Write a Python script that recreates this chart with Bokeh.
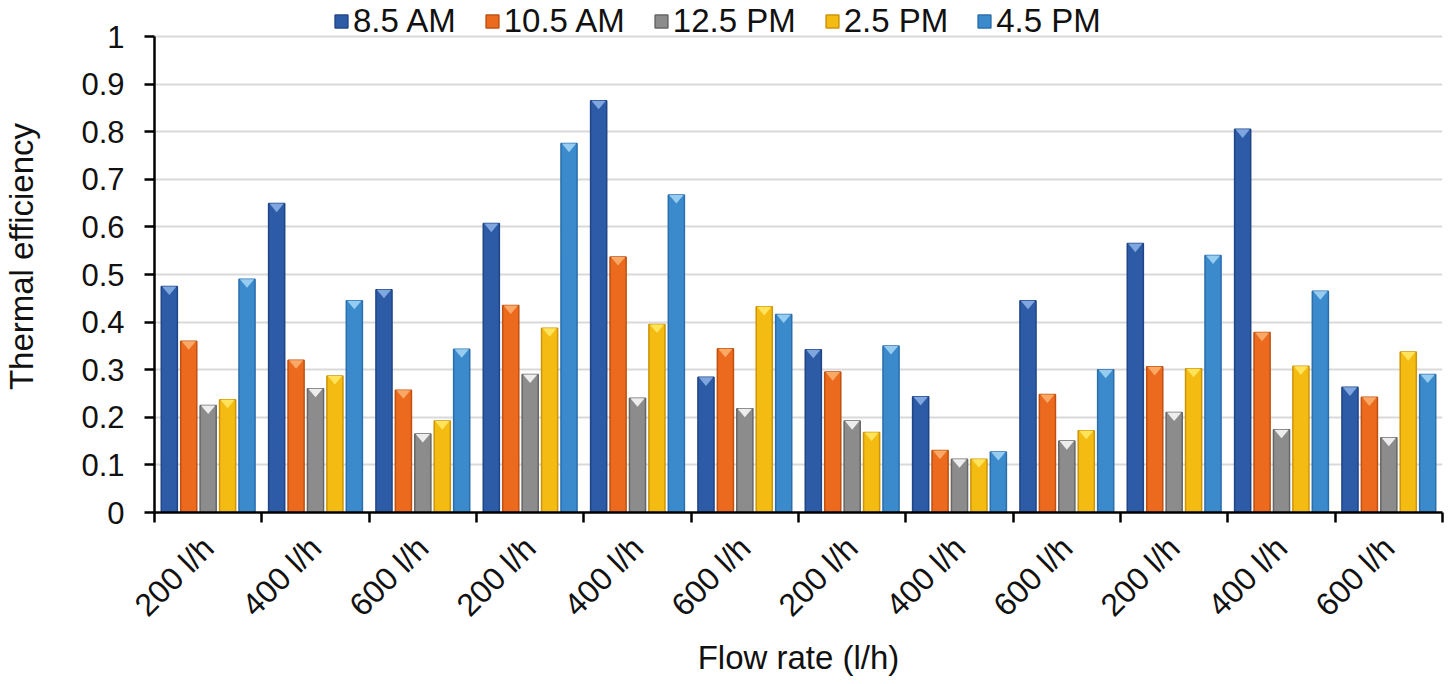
import math
from bokeh.plotting import figure
from bokeh.models import ColumnDataSource, FixedTicker, Legend, LegendItem
from bokeh.embed import file_html
from bokeh.resources import INLINE

groups = ["200 l/h", "400 l/h", "600 l/h", "200 l/h", "400 l/h", "600 l/h",
          "200 l/h", "400 l/h", "600 l/h", "200 l/h", "400 l/h", "600 l/h"]
series = ["8.5 AM", "10.5 AM", "12.5 PM", "2.5 PM", "4.5 PM"]
am85 = [0.475, 0.649, 0.468, 0.607, 0.865, 0.284, 0.342, 0.243, 0.445, 0.565, 0.805, 0.263]
am105 = [0.360, 0.320, 0.257, 0.435, 0.537, 0.344, 0.295, 0.130, 0.248, 0.306, 0.378, 0.242]
pm125 = [0.225, 0.260, 0.165, 0.290, 0.240, 0.218, 0.192, 0.112, 0.150, 0.210, 0.174, 0.157]
pm25 = [0.237, 0.287, 0.192, 0.387, 0.395, 0.432, 0.168, 0.112, 0.172, 0.302, 0.307, 0.337]
pm45 = [0.490, 0.445, 0.343, 0.775, 0.667, 0.416, 0.350, 0.127, 0.300, 0.540, 0.465, 0.290]
values = [am85, am105, pm125, pm25, pm45]
y_ticks = [0, 0.1, 0.2, 0.3, 0.4, 0.5, 0.6, 0.7, 0.8, 0.9, 1]
y_labels = ["0", "0.1", "0.2", "0.3", "0.4", "0.5", "0.6", "0.7", "0.8", "0.9", "1"]

main_c = ["#2D5BA6", "#EC6A1E", "#8C8C8C", "#F4BB12", "#3B8ACB"]
edge_c = ["#1F4587", "#BF5012", "#666666", "#CC9508", "#2A6EAC"]
hi_c = ["#7FA6DE", "#FAA866", "#EDEDED", "#FFE35A", "#96CCF0"]

FONT = "Liberation Sans"
offsets = [-0.362, -0.181, 0.0, 0.181, 0.362]
bw = 0.15

FH = 512
p = figure(frame_width=1288, frame_height=FH, output_backend="svg", toolbar_location=None,
           x_range=(0, 12), y_range=(0, 512 / 476),
           min_border_left=153, min_border_right=2, min_border_top=0,
           min_border_bottom=0)
p.outline_line_color = None
p.background_fill_color = "white"

items = []
for k, name in enumerate(series):
    xs = [i + 0.5 + offsets[k] for i in range(len(groups))]
    src = ColumnDataSource(dict(x=xs, top=values[k]))
    r = p.vbar(x="x", top="top", width=bw, source=src, fill_color=main_c[k],
               line_color=edge_c[k], line_width=1.5)
    p.vbar(x="x", top="top", width=bw * 0.55, source=src, fill_color=main_c[k],
           line_color=None, fill_alpha=1)
    tri_h = 0.018
    txs = [[x - bw / 2 + 0.008, x + bw / 2 - 0.008, x] for x in xs]
    tys = [[v, v, v - tri_h] for v in values[k]]
    p.patches(xs=txs, ys=tys, fill_color=hi_c[k], line_color=None)
    items.append(LegendItem(label=name, renderers=[r]))

legend = Legend(items=items, orientation="horizontal", location=(179, 472),
                label_text_font=FONT, label_text_font_size="33px",
                label_text_color="#111111", glyph_width=16, glyph_height=16,
                spacing=28, label_standoff=4, padding=2, margin=0,
                border_line_color=None, background_fill_alpha=0)
p.add_layout(legend)

p.ygrid.grid_line_color = "#D9D9D9"
p.ygrid.grid_line_width = 2
p.xgrid.grid_line_color = None

p.yaxis.ticker = FixedTicker(ticks=y_ticks)
p.yaxis.bounds = (0, 1)
p.yaxis.major_label_overrides = {t: l for t, l in zip(y_ticks, y_labels)}
p.yaxis.axis_label = "Thermal efficiency"
p.yaxis.minor_tick_line_color = None
p.yaxis.major_tick_out = 10
p.yaxis.major_tick_in = 0

p.xaxis.ticker = FixedTicker(ticks=[i + 0.5 for i in range(12)],
                             minor_ticks=list(range(13)))
p.xaxis.major_label_overrides = {i + 0.5: g for i, g in enumerate(groups)}
p.xaxis.major_label_orientation = math.pi / 4
p.xaxis.major_tick_line_color = None
p.xaxis.minor_tick_out = 10
p.xaxis.minor_tick_in = 0
p.xaxis.minor_tick_line_width = 2.5
p.xaxis.axis_label = "Flow rate (l/h)"

for ax in [p.xaxis, p.yaxis]:
    ax.axis_line_width = 2.5
    ax.axis_line_color = "black"
    ax.major_tick_line_width = 2.5
    ax.major_label_text_font = FONT
    ax.major_label_text_color = "#111111"
    ax.axis_label_text_font = FONT
    ax.axis_label_text_font_size = "33px"
    ax.axis_label_text_font_style = "normal"
    ax.axis_label_text_color = "#111111"
p.xaxis.major_label_text_font_size = "32px"
p.yaxis.major_label_text_font_size = "31px"
p.xaxis.major_label_standoff = 20
p.yaxis.major_label_standoff = 20
p.xaxis.axis_label_standoff = 0
p.yaxis.axis_label_standoff = 38

open("out.html", "w").write(file_html(p, INLINE))
